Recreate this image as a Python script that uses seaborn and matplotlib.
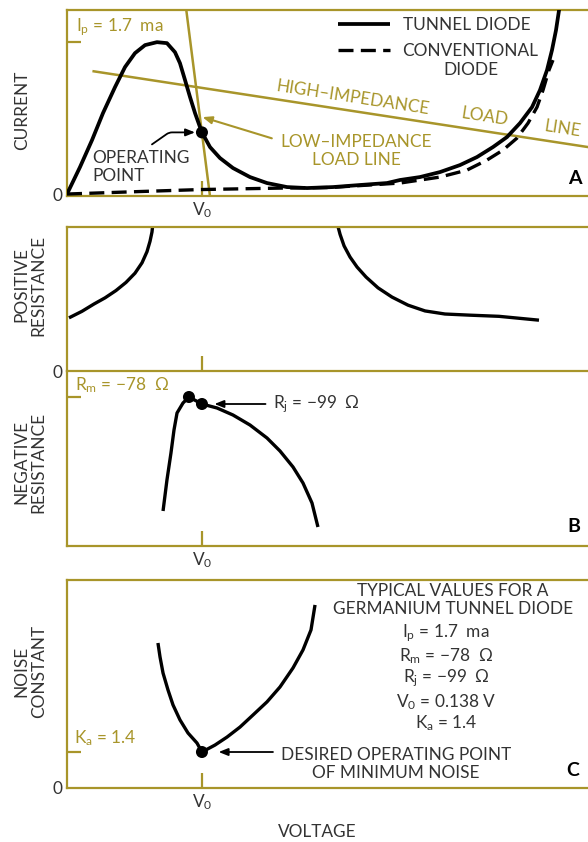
import matplotlib
matplotlib.use("Agg")
import matplotlib.pyplot as plt
import numpy as np
import seaborn as sns

# ------------------------------------------------------------------ values
V0 = 0.138      # operating voltage (V)
I_P = 1.7       # peak current (mA)
R_M = -78       # least negative resistance (ohm)
R_J = -99       # junction resistance at V0 (ohm)
K_A = 1.4       # noise constant at V0

# A: current (mA) against voltage (V)
tunnel_v = [0.000, 0.0133, 0.0256, 0.0368, 0.0491, 0.0593, 0.0695, 0.0798, 0.0920, 0.1022,
            0.1104, 0.1155, 0.1207, 0.1258, 0.1309, 0.1360, V0, 0.1462, 0.1564, 0.1697,
            0.1871, 0.2045, 0.2249, 0.2454, 0.2720, 0.2996, 0.3272, 0.3405, 0.3609, 0.3814,
            0.4018, 0.4192, 0.4356, 0.4499, 0.4632, 0.4755, 0.4836, 0.4908, 0.4959, 0.5000,
            0.5031, 0.5051]
tunnel_i = [0.000, 0.302, 0.604, 0.906, 1.197, 1.421, 1.577, 1.667, I_P, 1.689,
            1.588, 1.465, 1.275, 1.085, 0.906, 0.749, 0.690, 0.526, 0.403, 0.291,
            0.190, 0.123, 0.078, 0.067, 0.078, 0.101, 0.123, 0.157, 0.190, 0.246,
            0.324, 0.414, 0.526, 0.638, 0.794, 0.973, 1.163, 1.387, 1.611, 1.834,
            2.058, 2.226]
conv_v = [0.000, 0.0746, 0.136, 0.2209, 0.2689, 0.3405, 0.3814, 0.409, 0.4294, 0.4458,
          0.4601, 0.4714, 0.4806, 0.4867, 0.4928, 0.4969]
conv_i = [0.000, 0.028, 0.050, 0.067, 0.073, 0.123, 0.190, 0.268, 0.380, 0.492,
          0.626, 0.794, 0.973, 1.163, 1.387, 1.499]
high_load_v = [0.026, 0.56]
high_load_i = [1.376, 0.48]
low_load_v = [0.1215, 0.1465]
low_load_i = [2.10, -0.05]

# B: resistance (ohm) against voltage (V)
pos_low_v = [0.002, 0.0153, 0.0276, 0.0389, 0.0501, 0.0603, 0.0695, 0.0767, 0.0818, 0.0849,
             0.0869, 0.0879, 0.0884]
pos_low_r = [138, 155, 174, 190, 209, 230, 254, 281, 310, 337, 361, 385, 420]
pos_high_v = [0.2751, 0.2761, 0.2792, 0.2833, 0.2894, 0.2966, 0.3058, 0.3180, 0.3323,
              0.3487, 0.3661, 0.3865, 0.4121, 0.4417, 0.4826]
pos_high_r = [420, 385, 355, 325, 296, 270, 244, 216, 192, 171, 156, 148, 145, 142, 132]
neg_v = [0.0982, 0.1022, 0.1063, 0.1094, 0.1125, 0.1186, 0.1247, V0, 0.1534, 0.1697,
         0.1871, 0.2045, 0.2178, 0.2311, 0.2413, 0.2505, 0.2566]
neg_r = [-420, -327, -246, -177, -126, -96, R_M, R_J, -111, -132,
         -162, -201, -240, -288, -336, -396, -468]
rm_v = 0.1247

# C: noise constant against voltage (V)
noise_v = [0.0930, 0.0951, 0.0982, 0.1033, 0.1084, 0.1155, 0.1237, 0.1329, V0, 0.1513,
           0.1636, 0.1769, 0.1902, 0.2045, 0.2178, 0.2311, 0.2413, 0.2495, 0.2536]
noise_k = [5.64, 5.10, 4.47, 3.81, 3.23, 2.65, 2.14, 1.75, K_A, 1.67,
           1.98, 2.37, 2.84, 3.35, 3.93, 4.67, 5.37, 6.15, 7.12]

typical_lines = ["I$_\\mathrm{p}$ = 1.7  ma", "R$_\\mathrm{m}$ = \u221278  \u03a9",
                 "R$_\\mathrm{j}$ = \u221299  \u03a9", "V$_0$ = 0.138 V", "K$_\\mathrm{a}$ = 1.4"]

# ------------------------------------------------------------------ style
OLIVE = "#A8952A"
INK = "#333333"
FONT = "Lato"
FS = 12.4
sns.set_theme(style="white")
plt.rcParams["font.family"] = [FONT, "DejaVu Sans"]
plt.rcParams["mathtext.fontset"] = "custom"
plt.rcParams["mathtext.rm"] = FONT
plt.rcParams["mathtext.it"] = FONT + ":italic"
plt.rcParams["mathtext.bf"] = FONT + ":bold"
plt.rcParams["text.color"] = INK

W, H = 588, 842
PX_PER_V = 978
X_LEFT = 67
XMAX = 0.55

fig = plt.figure(figsize=(W / 100, H / 100), dpi=100)
fig.patch.set_facecolor("white")


def fx(x):
    return x / W


def fy(y):
    return 1 - y / H


def panel(top, bottom, spines, xlabel=True):
    ax = fig.add_axes([X_LEFT / W, 1 - bottom / H, XMAX * PX_PER_V / W, (bottom - top) / H])
    for name, sp in ax.spines.items():
        sp.set_visible(name in spines)
        sp.set_color(OLIVE)
        sp.set_linewidth(1.6)
    ax.set_facecolor("none")
    ax.set_xlim(0, XMAX)
    ax.set_xticks([V0])
    ax.set_xticklabels(["V$_0$"] if xlabel else [""])
    ax.tick_params(axis="x", which="major", direction="in", length=11, width=1.6,
                   color=OLIVE, pad=3, labelsize=FS, labelcolor=INK, bottom=True)
    ax.tick_params(axis="y", which="major", length=0, pad=3, labelsize=FS,
                   labelcolor=INK, left=True)
    ax.tick_params(axis="y", which="minor", direction="in", length=10, width=1.6,
                   color=OLIVE, left=True)
    ax.grid(False)
    ax.set_xlabel("")
    ax.set_ylabel("")
    return ax


def curve(ax, xs, ys, **kw):
    sns.lineplot(x=xs, y=ys, ax=ax, sort=False, estimator=None, **kw)
    line = ax.lines[-1]
    line.set_solid_joinstyle("round")
    line.set_solid_capstyle("butt")
    return line


arrow_k = dict(arrowstyle="-|>,head_length=0.5,head_width=0.2", color="black", lw=1.3)

# ------------------------------------------------------------------ panel A
axA = panel(10, 196, ("left", "top", "bottom"))
axA.set_ylim(-0.022, 2.06)
axA.set_yticks([0])
axA.set_yticklabels(["0"])
axA.set_yticks([I_P], minor=True)

curve(axA, high_load_v, high_load_i, color=OLIVE, lw=1.8, zorder=2)
curve(axA, low_load_v, low_load_i, color=OLIVE, lw=1.8, zorder=2)
conv_line = curve(axA, conv_v, conv_i, color="black", lw=2.4,
                  linestyle=(0, (4.5, 2.2)), zorder=3)
tunnel_line = curve(axA, tunnel_v, tunnel_i, color="black", lw=2.7, zorder=4)
op_i = tunnel_i[tunnel_v.index(V0)]
sns.scatterplot(x=[V0], y=[op_i], ax=axA, color="black", s=75, edgecolor="none", zorder=5)

leg = axA.legend([tunnel_line, conv_line], ["TUNNEL DIODE", "CONVENTIONAL"],
                 loc="upper left", bbox_to_anchor=(fx(338), fy(17)),
                 bbox_transform=fig.transFigure, frameon=False, fontsize=FS,
                 handlelength=3.0, handletextpad=0.75, labelspacing=0.58,
                 borderpad=0, borderaxespad=0)
for t in leg.get_texts():
    t.set_color(INK)

axA.text(fx(76), fy(27), "I$_\\mathrm{p}$ = 1.7  ma", transform=fig.transFigure,
         color=OLIVE, fontsize=FS, ha="left", va="center")

# labels running along the high-impedance load line
p0, p1 = axA.transData.transform(np.column_stack([high_load_v, high_load_i]))
angle = np.degrees(np.arctan2(p1[1] - p0[1], p1[0] - p0[0]))
for word, (x, y) in zip(["HIGH\u2013IMPEDANCE", "LOAD", "LINE"],
                        [(353, 98), (485, 117), (562, 129)]):
    fig.text(fx(x), fy(y), word, rotation=angle, rotation_mode="anchor",
             ha="center", va="center", color=OLIVE, fontsize=FS)

fig.text(fx(356), fy(151), "LOW\u2013IMPEDANCE\nLOAD LINE", ha="center", va="center",
         color=OLIVE, fontsize=FS, linespacing=1.1)
tip_i = 0.87
tip_v = np.interp(tip_i, low_load_i[::-1], low_load_v[::-1])
axA.annotate("", xy=(tip_v, tip_i), xytext=(72, -22), textcoords="offset pixels",
             arrowprops=dict(arrowstyle="-|>,head_length=0.5,head_width=0.2",
                             color=OLIVE, lw=1.5, shrinkA=0, shrinkB=2, mutation_scale=11))

axA.annotate("", xy=(V0, op_i), xytext=(-50, -12), textcoords="offset pixels",
             arrowprops=dict(arrow_k, shrinkA=0, shrinkB=5, mutation_scale=11,
                             connectionstyle="angle,angleA=35,angleB=0,rad=3"))
fig.text(fx(92), fy(167), "OPERATING\nPOINT", ha="left", va="center", fontsize=FS,
         linespacing=1.1)
fig.text(fx(575), fy(179), "A", ha="center", va="center", fontsize=14, fontweight="bold",
         color="black")

# ------------------------------------------------------------------ panel B
axB1 = panel(227, 371, ("left", "top", "bottom"), xlabel=False)
axB1.set_ylim(0, 374)
axB1.set_yticks([0])
axB1.set_yticklabels(["0"])
curve(axB1, pos_low_v, pos_low_r, color="black", lw=2.4)
curve(axB1, pos_high_v, pos_high_r, color="black", lw=2.4)

axB2 = panel(371, 546, ("left", "bottom"))
axB2.set_ylim(-525, 0)
axB2.set_yticks([])
axB2.set_yticks([R_M], minor=True)
curve(axB2, neg_v, neg_r, color="black", lw=2.4)
sns.scatterplot(x=[rm_v, V0], y=[R_M, R_J], ax=axB2, color="black", s=75,
                edgecolor="none", zorder=5)
axB2.text(fx(75), fy(385), "R$_\\mathrm{m}$ = \u221278  \u03a9", transform=fig.transFigure,
          color=OLIVE, fontsize=FS, ha="left", va="center")
axB2.annotate("R$_\\mathrm{j}$ = \u221299  \u03a9", xy=(V0, R_J), xytext=(71, 0),
              textcoords="offset pixels", ha="left", va="center", fontsize=FS,
              arrowprops=dict(arrow_k, shrinkA=3, shrinkB=9, mutation_scale=11))
fig.text(fx(574), fy(526), "B", ha="center", va="center", fontsize=14, fontweight="bold",
         color="black")

# ------------------------------------------------------------------ panel C
axC = panel(580, 788, ("left", "top", "bottom"))
axC.set_ylim(0, 8.09)
axC.set_yticks([0])
axC.set_yticklabels(["0"])
axC.set_yticks([K_A], minor=True)
curve(axC, noise_v, noise_k, color="black", lw=2.4)
sns.scatterplot(x=[V0], y=[K_A], ax=axC, color="black", s=75, edgecolor="none", zorder=5)
axC.text(fx(74), fy(738), "K$_\\mathrm{a}$ = 1.4", transform=fig.transFigure,
         color=OLIVE, fontsize=FS, ha="left", va="center")
axC.annotate("", xy=(V0, K_A), xytext=(71, 0), textcoords="offset pixels",
             arrowprops=dict(arrow_k, shrinkA=0, shrinkB=12, mutation_scale=11))
fig.text(fx(396), fy(764), "DESIRED OPERATING POINT\nOF MINIMUM NOISE", ha="center",
         va="center", fontsize=FS, linespacing=1.1)
fig.text(fx(453), fy(600), "TYPICAL VALUES FOR A\nGERMANIUM TUNNEL DIODE", ha="center",
         va="center", fontsize=FS, linespacing=1.1)
for line, y in zip(typical_lines, [633, 656, 678, 702, 723]):
    fig.text(fx(446), fy(y), line, ha="center", va="center", fontsize=FS)
fig.text(fx(573), fy(771), "C", ha="center", va="center", fontsize=14, fontweight="bold",
         color="black")

# ------------------------------------------------------------------ axis titles
fig.text(fx(22), fy(110), "CURRENT", rotation=90, ha="center", va="center", fontsize=FS)
fig.text(fx(30), fy(285), "POSITIVE\nRESISTANCE", rotation=90, ha="center", va="center",
         fontsize=FS, linespacing=1.1)
fig.text(fx(30), fy(462), "NEGATIVE\nRESISTANCE", rotation=90, ha="center", va="center",
         fontsize=FS, linespacing=1.1)
fig.text(fx(30), fy(671), "NOISE\nCONSTANT", rotation=90, ha="center", va="center",
         fontsize=FS, linespacing=1.1)
fig.text(fx(317), fy(832), "VOLTAGE", ha="center", va="center", fontsize=FS)

# second line of the conventional-diode legend entry, centred under the first
fig.canvas.draw()
conv_box = leg.get_texts()[1].get_window_extent()
fig.text((conv_box.x0 + conv_box.x1) / 2 / W, fy(70), "DIODE", ha="center", va="center",
         fontsize=FS)

fig.savefig("out.png", dpi=100, facecolor="white")
